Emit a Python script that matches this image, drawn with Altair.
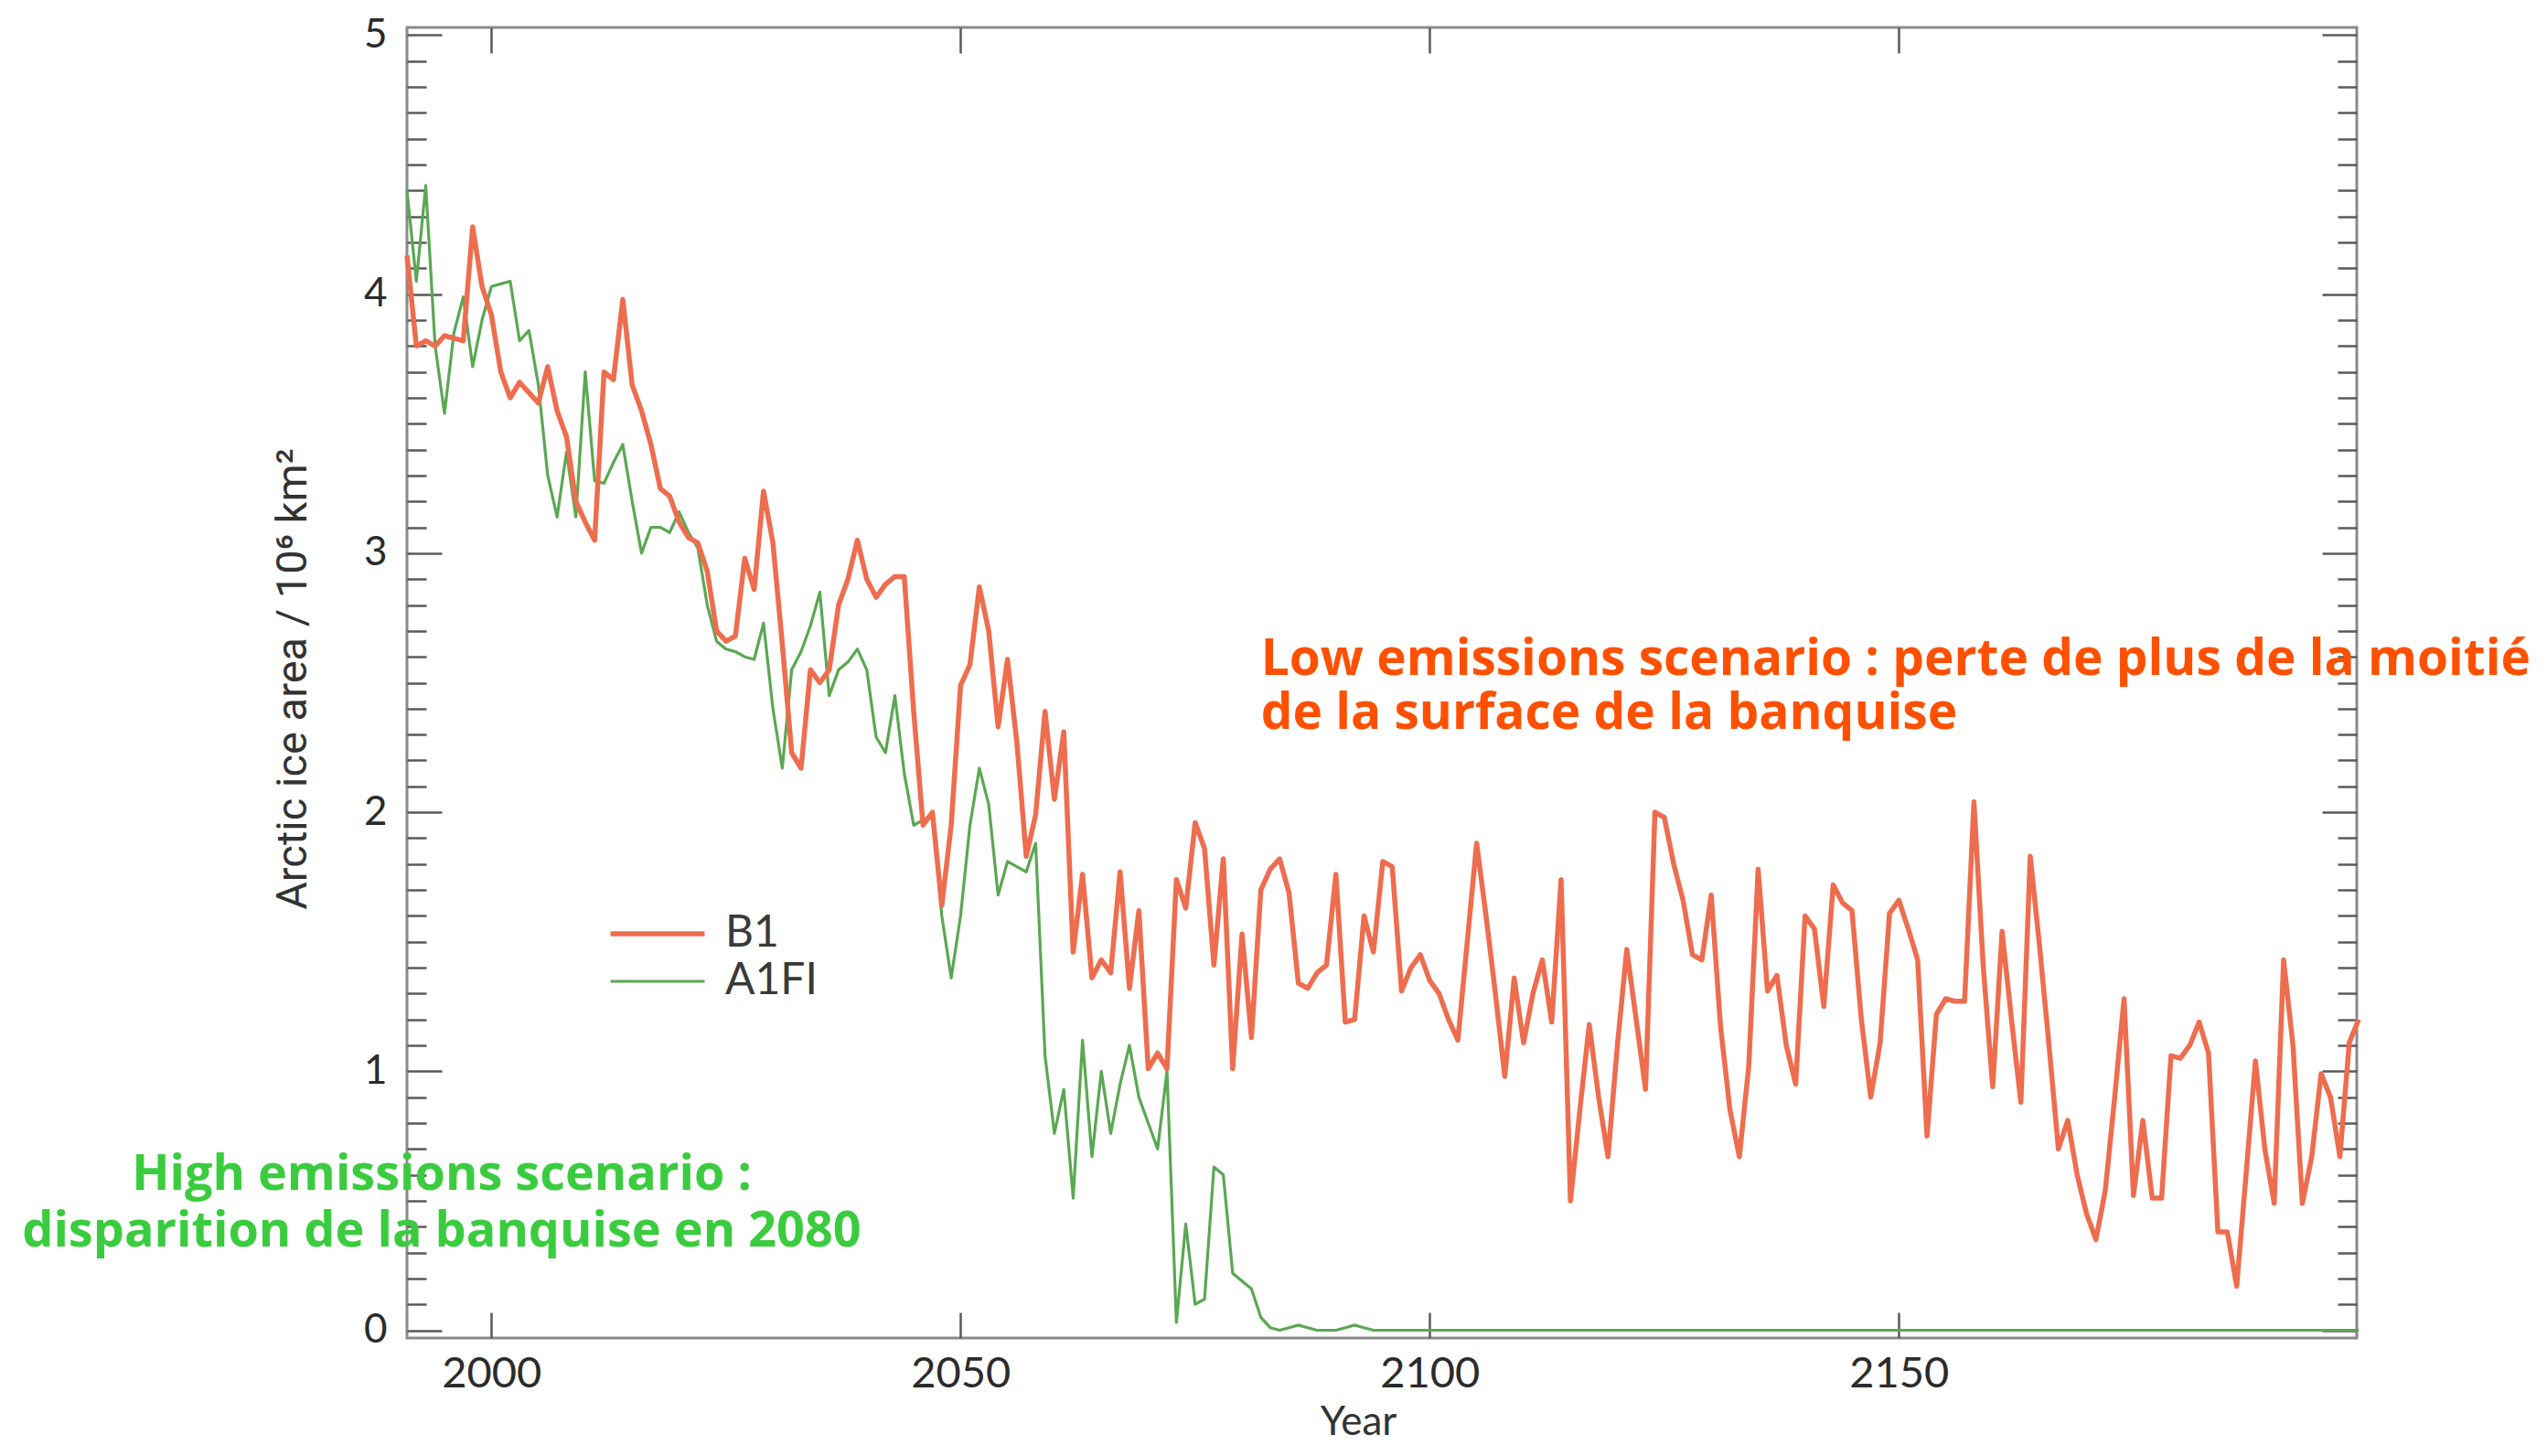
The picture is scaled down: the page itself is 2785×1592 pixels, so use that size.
import altair as alt
import pandas as pd

# ---------------- data ----------------
years = list(range(1991, 2200))

b1 = [
    4.15, 3.80, 3.82, 3.80, 3.84, 3.83, 3.82, 4.26, 4.03, 3.92,   # 1991-2000
    3.70, 3.60, 3.66, 3.62, 3.58, 3.72, 3.55, 3.45, 3.20, 3.12,   # 2001-2010
    3.05, 3.70, 3.67, 3.98, 3.65, 3.55, 3.42, 3.25, 3.22, 3.12,   # 2011-2020
    3.06, 3.04, 2.93, 2.70, 2.66, 2.68, 2.98, 2.86, 3.24, 3.04,   # 2021-2030
    2.65, 2.23, 2.17, 2.55, 2.50, 2.55, 2.80, 2.90, 3.05, 2.90,   # 2031-2040
    2.83, 2.88, 2.91, 2.91, 2.39, 1.95, 2.00, 1.64, 1.95, 2.49,   # 2041-2050
    2.57, 2.87, 2.70, 2.33, 2.59, 2.27, 1.83, 1.99, 2.39, 2.05,   # 2051-2060
    2.31, 1.46, 1.76, 1.36, 1.43, 1.38, 1.77, 1.32, 1.62, 1.01,   # 2061-2070
    1.07, 1.01, 1.74, 1.63, 1.96, 1.86, 1.41, 1.82, 1.01, 1.53,   # 2071-2080
    1.13, 1.70, 1.78, 1.82, 1.69, 1.34, 1.32, 1.38, 1.41, 1.76,   # 2081-2090
    1.19, 1.20, 1.60, 1.46, 1.81, 1.79, 1.31, 1.40, 1.45, 1.35,   # 2091-2100
    1.30, 1.20, 1.12, 1.50, 1.88, 1.60, 1.30, 0.98, 1.36, 1.11,   # 2101-2110
    1.30, 1.43, 1.19, 1.74, 0.50, 0.85, 1.18, 0.90, 0.67, 1.10,   # 2111-2120
    1.47, 1.20, 0.93, 2.00, 1.98, 1.80, 1.66, 1.45, 1.43, 1.68,   # 2121-2130
    1.17, 0.85, 0.67, 1.02, 1.78, 1.31, 1.37, 1.10, 0.95, 1.60,   # 2131-2140
    1.55, 1.25, 1.72, 1.65, 1.62, 1.20, 0.90, 1.11, 1.61, 1.66,   # 2141-2150
    1.55, 1.43, 0.75, 1.22, 1.28, 1.27, 1.27, 2.04, 1.40, 0.94,   # 2151-2160
    1.54, 1.20, 0.88, 1.83, 1.48, 1.10, 0.70, 0.81, 0.60, 0.45,   # 2161-2170
    0.35, 0.54, 0.90, 1.28, 0.52, 0.81, 0.51, 0.51, 1.06, 1.05,   # 2171-2180
    1.10, 1.19, 1.07, 0.38, 0.38, 0.17, 0.60, 1.04, 0.70, 0.49,   # 2181-2190
    1.43, 1.10, 0.49, 0.67, 0.99, 0.90, 0.67, 1.11, 1.20,         # 2191-2199
]

a1fi = [
    4.40, 4.05, 4.42, 3.80, 3.54, 3.85, 3.99, 3.72, 3.90, 4.03,   # 1991-2000
    4.04, 4.05, 3.82, 3.86, 3.65, 3.30, 3.14, 3.39, 3.14, 3.70,   # 2001-2010
    3.28, 3.27, 3.35, 3.42, 3.20, 3.00, 3.10, 3.10, 3.08, 3.16,   # 2011-2020
    3.08, 3.02, 2.80, 2.66, 2.63, 2.62, 2.60, 2.59, 2.73, 2.40,   # 2021-2030
    2.17, 2.55, 2.62, 2.72, 2.85, 2.45, 2.55, 2.58, 2.63, 2.55,   # 2031-2040
    2.29, 2.23, 2.45, 2.15, 1.95, 1.97, 1.99, 1.60, 1.36, 1.60,   # 2041-2050
    1.95, 2.17, 2.03, 1.68, 1.81, 1.79, 1.77, 1.88, 1.06, 0.76,   # 2051-2060
    0.93, 0.51, 1.12, 0.67, 1.00, 0.76, 0.95, 1.10, 0.90, 0.80,   # 2061-2070
    0.70, 1.00, 0.03, 0.41, 0.10, 0.12, 0.63, 0.60, 0.22, 0.19,   # 2071-2080
    0.16, 0.05, 0.01, 0.00, 0.01, 0.02, 0.01, 0.00, 0.00, 0.00,   # 2081-2090
    0.01, 0.02, 0.01, 0.00, 0.00, 0.00, 0.00, 0.00, 0.00, 0.00,   # 2091-2100
    0.00, 0.00, 0.00, 0.00, 0.00, 0.00, 0.00, 0.00, 0.00, 0.00,   # 2101-2110
    0.00, 0.00, 0.00, 0.00, 0.00, 0.00, 0.00, 0.00, 0.00, 0.00,   # 2111-2120
    0.00, 0.00, 0.00, 0.00, 0.00, 0.00, 0.00, 0.00, 0.00, 0.00,   # 2121-2130
    0.00, 0.00, 0.00, 0.00, 0.00, 0.00, 0.00, 0.00, 0.00, 0.00,   # 2131-2140
    0.00, 0.00, 0.00, 0.00, 0.00, 0.00, 0.00, 0.00, 0.00, 0.00,   # 2141-2150
    0.00, 0.00, 0.00, 0.00, 0.00, 0.00, 0.00, 0.00, 0.00, 0.00,   # 2151-2160
    0.00, 0.00, 0.00, 0.00, 0.00, 0.00, 0.00, 0.00, 0.00, 0.00,   # 2161-2170
    0.00, 0.00, 0.00, 0.00, 0.00, 0.00, 0.00, 0.00, 0.00, 0.00,   # 2171-2180
    0.00, 0.00, 0.00, 0.00, 0.00, 0.00, 0.00, 0.00, 0.00, 0.00,   # 2181-2190
    0.00, 0.00, 0.00, 0.00, 0.00, 0.00, 0.00, 0.00, 0.00,         # 2191-2199
]

series_names = ["B1", "A1FI"]
series_colors = ["#EE6D4E", "#5AA852"]
series_widths = [5.5, 3.2]

orange_lines = ["Low emissions scenario : perte de plus de la moitié",
                "de la surface de la banquise"]
orange_x = 2082.0
orange_y = 2.59

green_lines = ["High emissions scenario :",
               "disparition de la banquise en 2080"]
green_x = 1994.7
green_y = 0.60

x_tick_values = [2000, 2050, 2100, 2150]
y_label_values = [0, 1, 2, 3, 4, 5]
y_minor_values = [0.0, 0.1, 0.2, 0.3, 0.4, 0.5, 0.6, 0.7, 0.8, 0.9,
                  1.0, 1.1, 1.2, 1.3, 1.4, 1.5, 1.6, 1.7, 1.8, 1.9,
                  2.0, 2.1, 2.2, 2.3, 2.4, 2.5, 2.6, 2.7, 2.8, 2.9,
                  3.0, 3.1, 3.2, 3.3, 3.4, 3.5, 3.6, 3.7, 3.8, 3.9,
                  4.0, 4.1, 4.2, 4.3, 4.4, 4.5, 4.6, 4.7, 4.8, 4.9, 5.0]

# ---------------- tables ----------------
df = pd.concat([
    pd.DataFrame({"year": years, "value": a1fi, "series": "A1FI"}),
    pd.DataFrame({"year": years, "value": b1, "series": "B1"}),
], ignore_index=True)

df_orange = pd.DataFrame({"x": [orange_x], "y": [orange_y], "text": ["\n".join(orange_lines)]})
df_green = pd.DataFrame({"x": [green_x], "y": [green_y], "text": ["\n".join(green_lines)]})

# ---------------- layout ----------------
W, H = 2132, 1433
XDOM = [1991, 2198.8]
YDOM = [-0.03, 5.03]
xs = alt.Scale(domain=XDOM, nice=False, zero=False)
ys = alt.Scale(domain=YDOM, nice=False, zero=False)

FONT = "Lato"
ANNOT_FONT = "Open Sans"
TICK_COLOR = "#5a5a5a"
minor_size = {"condition": {"test": "abs(datum.value - round(datum.value)) < 0.001", "value": 38}, "value": 21}

leg = alt.Legend(
    title=None, orient="none", legendX=250, legendY=967,
    symbolType="M-3,0H3", symbolSize=1178,
    labelFont=FONT, labelFontSize=48, labelColor="#3a3a3a",
    labelOffset=50, rowPadding=4,
)

lines = alt.Chart(df).mark_line(strokeJoin="round").encode(
    x=alt.X("year:Q", scale=xs, axis=alt.Axis(
        orient="bottom", values=x_tick_values, format="d", ticks=False, domain=False, grid=False,
        labelFont=FONT, labelFontSize=47, labelColor="#2b2b2b", labelPadding=16,
        title="Year", titleFont=FONT, titleFontSize=44, titleFontWeight="normal", titleColor="#333333",
        titleX=1040, titleY=92, titleBaseline="middle", titleAlign="center")),
    y=alt.Y("value:Q", scale=ys, axis=alt.Axis(
        orient="left", values=y_label_values, format="d", ticks=False, domain=False, grid=False,
        labelFont=FONT, labelFontSize=44, labelColor="#2b2b2b", labelPadding=22,
        title="Arctic ice area / 10⁶ km²", titleFont="Liberation Sans Narrow, Roboto",
        titleFontSize=47, titleFontWeight="normal", titleColor="#333333",
        titleX=-125, titleY=712, titleBaseline="middle", titleAlign="center")),
    color=alt.Color("series:N", scale=alt.Scale(domain=series_names, range=series_colors), legend=leg),
    strokeWidth=alt.StrokeWidth("series:N", scale=alt.Scale(domain=series_names, range=series_widths), legend=leg),
)

orange = alt.Chart(df_orange).mark_text(
    align="left", baseline="middle", font=ANNOT_FONT, fontSize=55, fontWeight="bold",
    color="#FF5000", lineBreak="\n", lineHeight=59,
).encode(
    x=alt.X("x:Q", scale=xs, axis=alt.Axis(
        orient="top", offset=-H, values=x_tick_values, labels=False, domain=False, grid=False,
        tickSize=28, tickColor=TICK_COLOR, tickWidth=2.5, title=None)),
    y=alt.Y("y:Q", scale=ys, axis=alt.Axis(
        orient="right", offset=-W, values=y_minor_values, labels=False, domain=False, grid=False,
        tickSize=minor_size, tickColor=TICK_COLOR, tickWidth=2.5, title=None)),
    text="text:N",
)

green = alt.Chart(df_green).mark_text(
    align="center", baseline="middle", font=ANNOT_FONT, fontSize=54, fontWeight="bold",
    color="#3ACC3E", lineBreak="\n", lineHeight=62,
).encode(
    x=alt.X("x:Q", scale=xs, axis=alt.Axis(
        orient="bottom", offset=-H, values=x_tick_values, labels=False, domain=False, grid=False,
        tickSize=28, tickColor=TICK_COLOR, tickWidth=2.5, title=None)),
    y=alt.Y("y:Q", scale=ys, axis=alt.Axis(
        orient="left", offset=-W, values=y_minor_values, labels=False, domain=False, grid=False,
        tickSize=minor_size, tickColor=TICK_COLOR, tickWidth=2.5, title=None)),
    text="text:N",
)

chart = alt.layer(lines, orange, green).resolve_axis(
    x="independent", y="independent"
).properties(
    width=W, height=H,
    autosize=alt.AutoSizeParams(type="none"),
    padding={"left": 437, "top": 22, "right": 200, "bottom": 121},
    background="white",
).configure_view(
    stroke="#8a8a8a", strokeWidth=3
)

chart.save("out.html", embed_options={"renderer": "svg", "actions": False})
